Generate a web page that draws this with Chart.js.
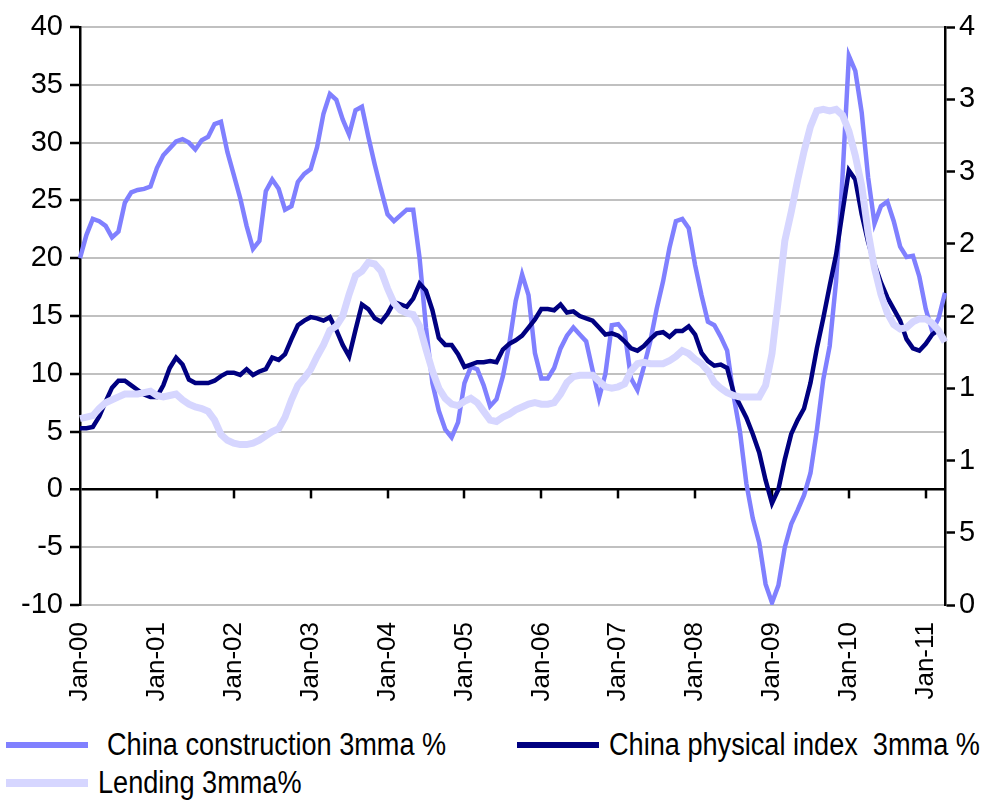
<!DOCTYPE html>
<html><head><meta charset="utf-8">
<script src="https://cdn.jsdelivr.net/npm/chart.js@4.4.1/dist/chart.umd.min.js"></script>
<style>
html,body{margin:0;padding:0;background:#fff;width:989px;height:804px;overflow:hidden;}
#clip{position:absolute;left:0;top:0;width:976px;height:725px;overflow:hidden;}
#c{position:absolute;left:0;top:0;}
.leg{position:absolute;font-family:"Liberation Sans",Arial,sans-serif;font-size:31px;color:#000;white-space:pre;line-height:1;transform:scaleX(0.875);transform-origin:0 50%;}
.sw{position:absolute;}
</style></head><body>
<div id="clip"><canvas id="c" width="1010" height="725"></canvas></div>
<div class="sw" style="left:6px;top:742px;width:82px;height:6px;background:#8080ff"></div>
<div class="leg" style="left:107px;top:729px">China construction 3mma %</div>
<div class="sw" style="left:517px;top:742px;width:82px;height:6px;background:#000080"></div>
<div class="leg" style="left:609px;top:729px">China physical index  3mma %</div>
<div class="sw" style="left:6px;top:779px;width:82px;height:8px;background:#d6d6ff"></div>
<div class="leg" style="left:98px;top:767px">Lending 3mma%</div>
<script>
const monthNames = ['Jan','Feb','Mar','Apr','May','Jun','Jul','Aug','Sep','Oct','Nov','Dec'];
const years = ['00','01','02','03','04','05','06','07','08','09','10','11'];
const monthCount = 136; // Jan-00 .. Apr-11
const categories = [];
for (let i = 0; i < monthCount; i++) categories.push(monthNames[i % 12] + '-' + years[Math.floor(i / 12)]);

const leftTicks = [40,35,30,25,20,15,10,5,0,-5,-10];
const rightTicks = [40,35,30,25,20,15,10,5,0];

const construction = [
 20, 22, 23.4, 23.2, 22.8, 21.8, 22.3, 24.8, 25.7, 25.9, 26, 26.2,
 27.8, 28.9, 29.5, 30.1, 30.3, 30, 29.4, 30.2, 30.5, 31.6, 31.8, 29.2,
 27.2, 25.2, 22.8, 20.8, 21.5, 25.8, 26.8, 26.0, 24.2, 24.5, 26.6, 27.3,
 27.7, 29.6, 32.5, 34.2, 33.7, 32, 30.7, 32.8, 33.1, 30.5, 28.1, 25.9,
 23.8, 23.2, 23.7, 24.2, 24.2, 20, 14, 9.2, 6.8, 5.2, 4.5, 5.8,
 9.2, 10.6, 10.4, 9.0, 7.2, 7.8, 9.8, 12.6, 16.3, 18.6, 16.8, 11.8,
 9.6, 9.6, 10.5, 12.2, 13.3, 14.0, 13.4, 12.8, 10.3, 7.9, 10, 14.2,
 14.3, 13.6, 9.6, 8.6, 10.6, 12.8, 15.6, 18, 20.9, 23.2, 23.4, 22.6,
 19.4, 16.8, 14.5, 14.2, 13.2, 12, 8.1, 5, 0.5, -2.5, -4.6, -8.2,
 -9.8, -8.3, -5, -3, -1.8, -0.5, 1.4, 5.1, 9.5, 12.4, 18, 27,
 37.5, 36.2, 32.6, 27, 23, 24.5, 24.9, 23.2, 21, 20.1, 20.2, 18.4,
 15.6, 13.7, 14.8, 17
];
const physical = [
 5.3, 5.3, 5.4, 6.3, 7.6, 8.8, 9.4, 9.4, 9.0, 8.6, 8.2, 8.0,
 8.0, 9.0, 10.5, 11.4, 10.8, 9.5, 9.2, 9.2, 9.2, 9.4, 9.8, 10.1,
 10.1, 9.9, 10.4, 9.9, 10.2, 10.4, 11.4, 11.2, 11.7, 13.0, 14.2, 14.6,
 14.9, 14.8, 14.6, 14.9, 13.8, 12.5, 11.5, 13.8, 16.0, 15.6, 14.8, 14.5,
 15.2, 16.2, 16.0, 15.8, 16.5, 17.8, 17.2, 15.5, 13.1, 12.5, 12.5, 11.7,
 10.6, 10.8, 11.0, 11.0, 11.1, 11.0, 12.1, 12.6, 12.9, 13.3, 14.0, 14.7,
 15.6, 15.6, 15.5, 16.0, 15.3, 15.4, 15.0, 14.8, 14.6, 14.0, 13.4, 13.5,
 13.3, 12.8, 12.2, 12.0, 12.4, 13.0, 13.5, 13.6, 13.2, 13.7, 13.7, 14.1,
 13.4, 11.8, 11.1, 10.7, 10.8, 10.5, 8.4, 7.3, 6.2, 4.8, 3.2, 0.8,
 -1.2, 0.0, 2.6, 4.8, 6.0, 7.0, 9.2, 12.2, 14.8, 17.6, 20.3, 24,
 27.6, 26.8, 23.8, 21.4, 19.5, 17.9, 16.6, 15.6, 14.6, 13, 12.2, 12,
 12.6, 13.4, 13.8, null
];
const lending = [
 12.9, 13.0, 13.1, 13.6, 14.0, 14.2, 14.4, 14.6, 14.6, 14.6, 14.7, 14.8,
 14.5, 14.4, 14.5, 14.6, 14.2, 13.9, 13.7, 13.6, 13.4, 12.8, 11.8, 11.4,
 11.2, 11.1, 11.1, 11.2, 11.4, 11.7, 12.0, 12.2, 13.0, 14.2, 15.2, 15.7,
 16.3, 17.2, 18.0, 19.0, 19.3, 20.0, 21.5, 22.8, 23.1, 23.7, 23.6, 23.1,
 21.9, 20.9, 20.4, 20.2, 20.1, 19.3, 17.7, 16.2, 15.0, 14.3, 13.9, 13.8,
 14.1, 14.3, 14.0, 13.4, 12.8, 12.7, 13.0, 13.2, 13.5, 13.7, 13.9, 14.0,
 13.9, 13.9, 14.0, 14.6, 15.4, 15.8, 15.9, 15.9, 15.9, 15.5, 15.1, 15.0,
 15.1, 15.3, 16.2, 16.7, 16.8, 16.7, 16.7, 16.7, 16.9, 17.2, 17.6, 17.4,
 17.0, 16.7, 16.2, 15.4, 15.0, 14.7, 14.5, 14.4, 14.4, 14.4, 14.4, 15.2,
 17.4, 21.2, 25.2, 27.2, 29.4, 31.4, 33.1, 34.2, 34.3, 34.2, 34.3, 33.9,
 32.8, 31.1, 29.0, 25.8, 23.3, 21.5, 20.2, 19.4, 19.1, 19.2, 19.6, 19.8,
 19.8, 19.5, 19.0, 18.2
];

const FONT = '"Liberation Sans", Arial, sans-serif';

const zeroTicks = {
  id: 'zeroTicks',
  beforeDatasetsDraw(chart) {
    const { ctx, scales: { x, y } } = chart;
    const y0 = y.getPixelForValue(0);
    ctx.save();
    ctx.strokeStyle = '#000';
    ctx.lineWidth = 2.5;
    categories.forEach((c, i) => {
      if (c.startsWith('Jan') && i > 0) {
        const px = Math.round(x.getPixelForValue(i));
        ctx.beginPath(); ctx.moveTo(px, y0); ctx.lineTo(px, y0 + 9); ctx.stroke();
      }
    });
    ctx.restore();
  }
};

new Chart(document.getElementById('c'), {
  type: 'line',
  data: {
    labels: categories,
    datasets: [
      { label: 'Lending 3mma%', data: lending, yAxisID: 'y2', borderColor: '#d6d6ff', borderWidth: 7, pointRadius: 0, tension: 0, order: 1 },
      { label: 'China physical index  3mma %', data: physical, yAxisID: 'y', borderColor: '#000080', borderWidth: 4.5, pointRadius: 0, tension: 0, order: 2 },
      { label: 'China construction 3mma %', data: construction, yAxisID: 'y', borderColor: '#8080ff', borderWidth: 4.5, pointRadius: 0, tension: 0, order: 3 }
    ]
  },
  options: {
    responsive: false,
    animation: false,
    events: [],
    layout: { padding: { top: 27, left: 0, right: 0, bottom: 0 } },
    plugins: { legend: { display: false }, tooltip: { enabled: false } },
    scales: {
      x: {
        type: 'category',
        position: 'bottom',
        grid: { display: false, drawTicks: false },
        border: { display: false },
        ticks: {
          autoSkip: false, maxRotation: 90, minRotation: 90, padding: 17,
          color: '#000', font: { family: FONT, size: 26 },
          callback: (v, i) => categories[i].startsWith('Jan') ? categories[i] : null
        },
        afterFit: s => { s.height = 120; }
      },
      y: {
        position: 'left', min: -10, max: 40,
        afterBuildTicks: s => { s.ticks = leftTicks.map(v => ({ value: v })); },
        grid: {
          color: c => (c.tick && c.tick.value === 0) ? '#000' : '#c0c0c0',
          lineWidth: c => (c.tick && c.tick.value === 0) ? 2.5 : 2,
          tickLength: 10, tickColor: '#000', tickWidth: 2.5
        },
        border: { color: '#000', width: 2.5 },
        ticks: { color: '#000', padding: 7, font: { family: FONT, size: 29 } },
        afterFit: s => { s.width = 80; }
      },
      y2: {
        position: 'right', min: 0, max: 40,
        afterBuildTicks: s => { s.ticks = rightTicks.map(v => ({ value: v })); },
        grid: { drawOnChartArea: false, tickLength: 10, tickColor: '#000', tickWidth: 2.5 },
        border: { color: '#000', width: 2.5 },
        ticks: { color: '#000', padding: 4, font: { family: FONT, size: 29 } },
        afterFit: s => { s.width = 65; }
      }
    }
  },
  plugins: [zeroTicks]
});
</script>
</body></html>
